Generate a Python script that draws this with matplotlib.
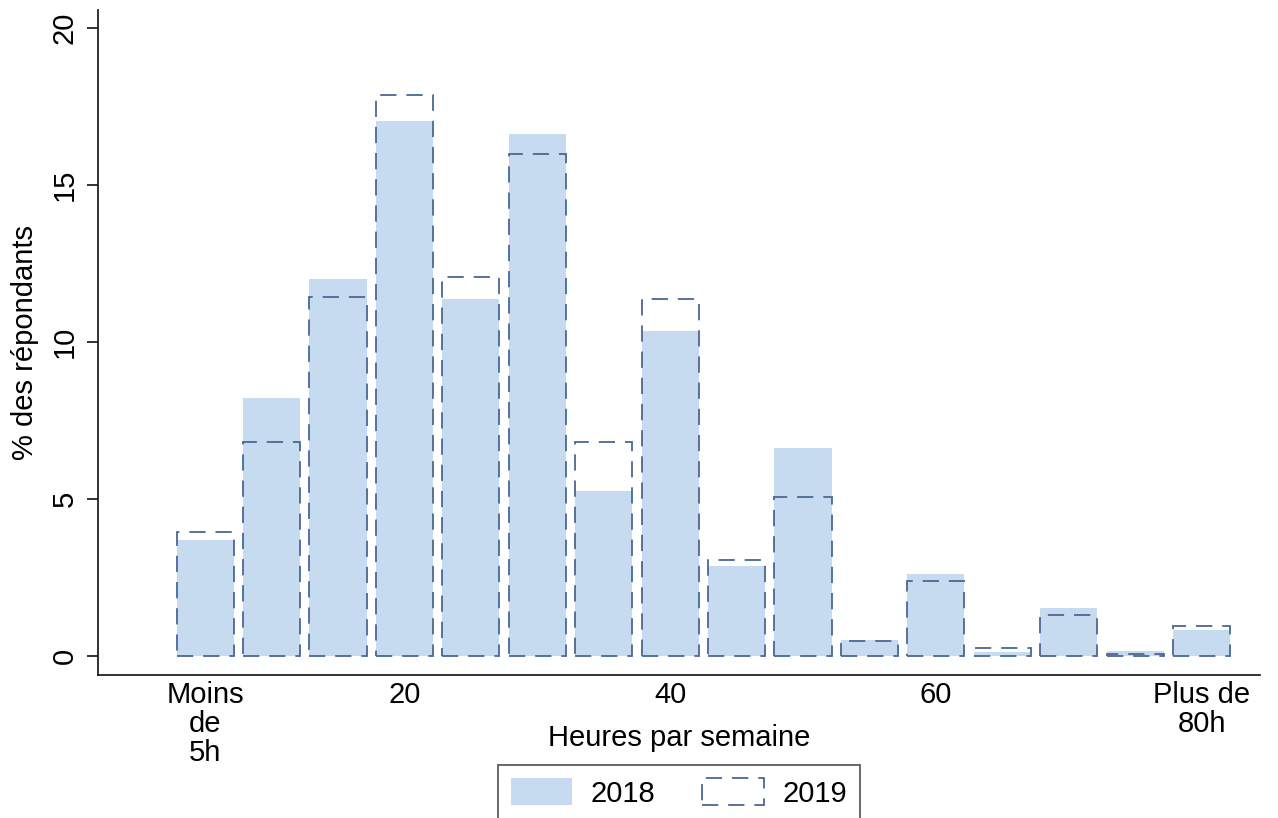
import matplotlib
matplotlib.use("Agg")
import matplotlib.pyplot as plt
from matplotlib.patches import Patch

plt.rcParams['font.family'] = ['Liberation Sans', 'DejaVu Sans']

hours = [5, 10, 15, 20, 25, 30, 35, 40, 45, 50, 55, 60, 65, 70, 75, 80]
pct_2018 = [3.7, 8.2, 12.0, 17.05, 11.37, 16.62, 5.25, 10.35, 2.87, 6.62, 0.5, 2.6, 0.13, 1.53, 0.16, 0.83]
pct_2019 = [3.95, 6.8, 11.43, 17.85, 12.08, 16.0, 6.8, 11.37, 3.06, 5.06, 0.48, 2.39, 0.25, 1.3, 0.06, 0.96]
xtick_pos = [5, 20, 40, 60, 80]
xtick_labels = ["Moins\nde\n5h", "20", "40", "60", "Plus de\n80h"]
yticks = [0, 5, 10, 15, 20]

fill_color = "#c6dbef"
edge_color = "#4a6894"
width = 4.3
dash = (0, (9, 5.5))
fs = 21

fig = plt.figure(figsize=(12.78, 8.18), dpi=100)
ax = fig.add_axes([98/1278, 143/818, (1260-98)/1278, (675-10)/818])

ax.bar(hours, pct_2018, width=width, color=fill_color, edgecolor='none', zorder=2)
ax.bar(hours, pct_2019, width=width, facecolor='none', edgecolor=edge_color,
       linewidth=1.3, linestyle=dash, zorder=3)

ax.set_xlim(-3.06, 84.4)
ax.set_ylim(-0.605, 20.57)

for s in ['top', 'right']:
    ax.spines[s].set_visible(False)
for s in ['left', 'bottom']:
    ax.spines[s].set_color('#222222')
    ax.spines[s].set_linewidth(1.3)

ax.set_yticks(yticks)
ax.set_yticklabels([str(v) for v in yticks], rotation=90, va='center', fontsize=fs)
ax.tick_params(axis='y', length=8, width=1.3, color='#222222', pad=6)

ax.set_xticks(xtick_pos)
ax.set_xticklabels(xtick_labels, fontsize=fs, linespacing=1.05)
ax.tick_params(axis='x', length=0, pad=4)

ax.set_xlabel("Heures par semaine", fontsize=fs, labelpad=-31)
ax.set_ylabel("% des répondants", fontsize=fs, labelpad=8)

handles = [Patch(facecolor=fill_color, edgecolor='none', label='2018'),
           Patch(facecolor='none', edgecolor=edge_color, linewidth=1.3,
                 linestyle=dash, label='2019')]
leg = fig.legend(handles=handles, loc='upper center',
                 bbox_to_anchor=((497+861)/2/1278, 1-765/818),
                 ncol=2, fontsize=fs, frameon=True, fancybox=False,
                 handlelength=2.1, handleheight=1.05, columnspacing=1.6,
                 borderpad=0.45, handletextpad=0.65, borderaxespad=0)
leg.get_frame().set_edgecolor('#333333')
leg.get_frame().set_linewidth(1.3)

fig.savefig("out.png", dpi=100)
